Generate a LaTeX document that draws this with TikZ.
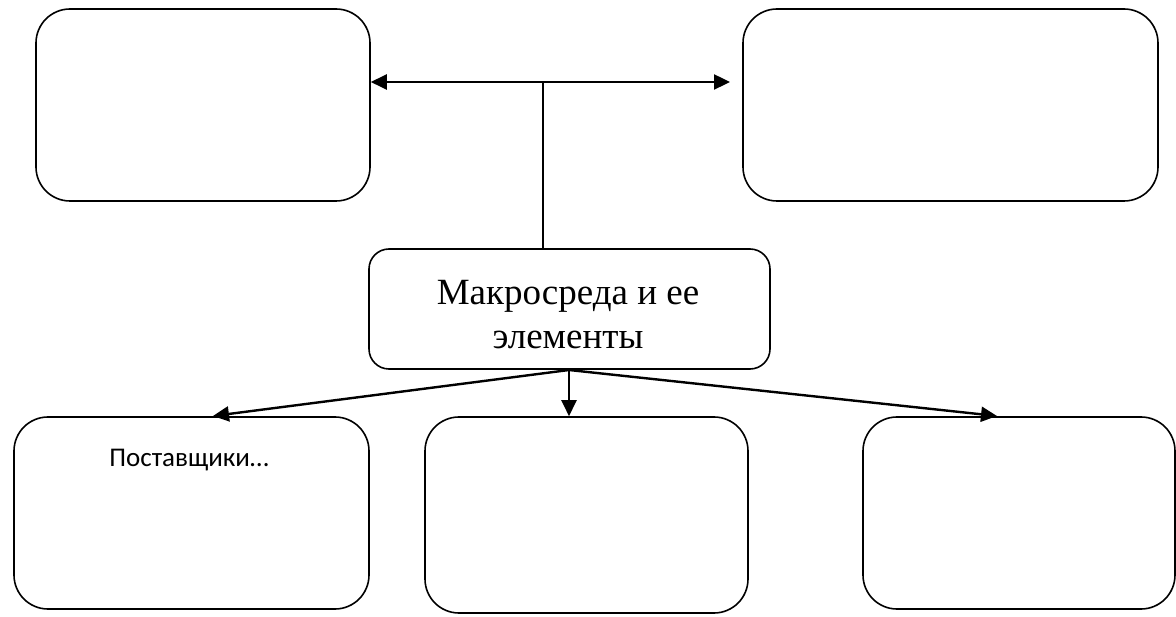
\documentclass[tikz,border=0pt]{standalone}
\usepackage{fontspec}
\setmainfont{Liberation Serif}
\newfontfamily\calibri{Carlito}
\usetikzlibrary{arrows.meta}
\begin{document}
\begin{tikzpicture}[x=1pt,y=-1pt,
  box/.style={draw, line width=1.6pt, rounded corners=34pt, rectangle, inner sep=0pt},
  arr/.style={line width=2.4pt, -{Triangle[length=16pt,width=15pt]}},
  plain/.style={line width=1.6pt}]
\useasboundingbox (0,0) rectangle (1176,617);
\node[box, minimum width=334pt, minimum height=192pt] (TL) at (203,105) {};
\node[box, minimum width=415pt, minimum height=192pt] (TR) at (950.5,105) {};
\node[box, rounded corners=20pt, minimum width=401pt, minimum height=120pt] (C) at (569.5,309) {};
\node[box, minimum width=355pt, minimum height=192pt] (BL) at (191.5,513) {};
\node[box, minimum width=323pt, minimum height=196pt] (BM) at (586.5,515) {};
\node[box, minimum width=312pt, minimum height=192pt] (BR) at (1019,513) {};
\node[anchor=base, font=\fontsize{37}{50}\selectfont, inner sep=0pt] (Ct) at (568,305) {Макросреда и ее};
\node[anchor=base, font=\fontsize{37}{50}\selectfont, inner sep=0pt] (Ct2) at (568,349) {элементы};
\node[anchor=base, font=\calibri\fontsize{27}{30}\selectfont, inner sep=0pt] (Bt) at (189,467) {Поставщики…};
\coordinate (J) at (543,82);
\coordinate (Rt) at (730,82);
\coordinate (S) at (569,370);
\coordinate (Lt) at (213,416);
\coordinate (Rb) at (997,416);
\draw[plain] (J) -- (J |- C.north);
\draw[arr] (J) -- (TL.east |- J);
\draw[arr] (J) -- (Rt);
\draw[arr] (S) -- (Lt);
\draw[arr] (S) -- (S |- BM.north);
\draw[arr] (S) -- (Rb);
\end{tikzpicture}
\end{document}
